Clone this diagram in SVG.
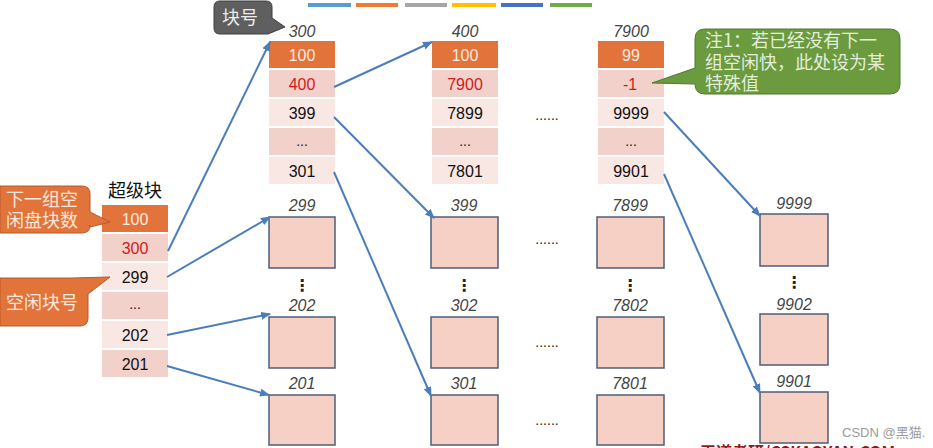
<svg xmlns="http://www.w3.org/2000/svg" width="933" height="448" viewBox="0 0 933 448">
<defs>
<marker id="ah" markerWidth="10" markerHeight="8" refX="9" refY="4" orient="auto" markerUnits="userSpaceOnUse">
<path d="M0,0 L10,4 L0,8 Z" fill="#4a7ebb"/>
</marker>
</defs>
<style>
.num{font-family:"Liberation Sans",Arial,sans-serif;font-size:16px;text-anchor:middle;fill:#111}
.wt{fill:#fbeadf}
.red{fill:#d21a1a}
.lbl{font-family:"Liberation Sans",Arial,sans-serif;font-size:16px;font-style:italic;text-anchor:middle;fill:#444}
.dots{font-family:"Liberation Sans",Arial,sans-serif;font-size:14px;text-anchor:middle;fill:#222}
.vd{font-family:"DejaVu Sans",sans-serif;font-size:16px;font-weight:bold;text-anchor:middle;fill:#222}
.cjk{font-family:"Noto Sans CJK SC","Noto Sans",sans-serif;font-size:18px}
.or{fill:#e2733a}
.dk{fill:#f2d1cb}
.lt{fill:#f9e7e4}
.box{fill:#f6d0c4;stroke:#4f5d78;stroke-width:1.5}
.conn{stroke:#4a7ebb;stroke-width:2;fill:none;marker-end:url(#ah)}
</style>
<rect width="933" height="448" fill="#ffffff"/>

<g id="colorbar">
<rect x="308" y="3" width="43" height="4" fill="#5b9bd5"/>
<rect x="356" y="3" width="42" height="4" fill="#ed7d31"/>
<rect x="405" y="3" width="42" height="4" fill="#a5a5a5"/>
<rect x="452" y="3" width="44" height="4" fill="#ffc000"/>
<rect x="501" y="3" width="42" height="4" fill="#4472c4"/>
<rect x="550" y="3" width="42" height="4" fill="#70ad47"/>
</g>

<g id="superblock">
<text x="135" y="197" class="cjk" text-anchor="middle" fill="#111">超级块</text>
<rect x="102" y="205" width="66" height="27" class="or"/>
<text x="135" y="225" class="num wt">100</text>
<rect x="102" y="234" width="66" height="27" class="dk"/>
<text x="135" y="254" class="num red">300</text>
<rect x="102" y="263" width="66" height="27" class="lt"/>
<text x="135" y="283" class="num">299</text>
<rect x="102" y="292" width="66" height="27" class="dk"/>
<text x="135" y="309" class="dots">...</text>
<rect x="102" y="321" width="66" height="27" class="lt"/>
<text x="135" y="341" class="num">202</text>
<rect x="102" y="350" width="66" height="27" class="dk"/>
<text x="135" y="370" class="num">201</text>
</g>

<g id="group300">
<text x="302" y="37" class="lbl">300</text>
<rect x="269" y="41" width="66" height="27" class="or"/>
<text x="302" y="61" class="num wt">100</text>
<rect x="269" y="70" width="66" height="27" class="dk"/>
<text x="302" y="90" class="num red">400</text>
<rect x="269" y="99" width="66" height="27" class="lt"/>
<text x="302" y="119" class="num">399</text>
<rect x="269" y="128" width="66" height="27" class="dk"/>
<text x="302" y="146" class="dots">...</text>
<rect x="269" y="157" width="66" height="27" class="lt"/>
<text x="302" y="177" class="num">301</text>
</g>

<g id="group400">
<text x="465" y="37" class="lbl">400</text>
<rect x="432" y="41" width="66" height="27" class="or"/>
<text x="465" y="61" class="num wt">100</text>
<rect x="432" y="70" width="66" height="27" class="dk"/>
<text x="465" y="90" class="num red">7900</text>
<rect x="432" y="99" width="66" height="27" class="lt"/>
<text x="465" y="119" class="num">7899</text>
<rect x="432" y="128" width="66" height="27" class="dk"/>
<text x="465" y="146" class="dots">...</text>
<rect x="432" y="157" width="66" height="27" class="lt"/>
<text x="465" y="177" class="num">7801</text>
</g>

<g id="group7900">
<text x="631" y="37" class="lbl">7900</text>
<rect x="598" y="41" width="66" height="27" class="or"/>
<text x="631" y="61" class="num wt">99</text>
<rect x="598" y="70" width="66" height="27" class="dk"/>
<text x="630" y="90" class="num red">-1</text>
<rect x="598" y="99" width="66" height="27" class="lt"/>
<text x="631" y="119" class="num">9999</text>
<rect x="598" y="128" width="66" height="27" class="dk"/>
<text x="631" y="146" class="dots">...</text>
<rect x="598" y="157" width="66" height="27" class="lt"/>
<text x="631" y="177" class="num">9901</text>
</g>

<g id="blocks1">
<text x="302" y="211" class="lbl">299</text>
<rect x="269" y="217" width="66" height="51" class="box"/>
<text x="302" y="291" class="vd">⋮</text>
<text x="302" y="311" class="lbl">202</text>
<rect x="269" y="317" width="66" height="51" class="box"/>
<text x="302" y="389" class="lbl">201</text>
<rect x="269" y="395" width="66" height="50" class="box"/>
</g>

<g id="blocks2">
<text x="464" y="211" class="lbl">399</text>
<rect x="431" y="217" width="67" height="51" class="box"/>
<text x="464" y="291" class="vd">⋮</text>
<text x="464" y="311" class="lbl">302</text>
<rect x="431" y="317" width="67" height="51" class="box"/>
<text x="464" y="389" class="lbl">301</text>
<rect x="431" y="395" width="67" height="50" class="box"/>
</g>

<g id="blocks3">
<text x="630" y="211" class="lbl">7899</text>
<rect x="597" y="217" width="67" height="51" class="box"/>
<text x="630" y="291" class="vd">⋮</text>
<text x="630" y="311" class="lbl">7802</text>
<rect x="597" y="317" width="67" height="51" class="box"/>
<text x="630" y="389" class="lbl">7801</text>
<rect x="597" y="395" width="67" height="50" class="box"/>
</g>

<g id="blocks4">
<text x="794" y="209" class="lbl">9999</text>
<rect x="760" y="214" width="68" height="52" class="box"/>
<text x="794" y="288" class="vd">⋮</text>
<text x="794" y="310" class="lbl">9902</text>
<rect x="760" y="314" width="68" height="51" class="box"/>
<text x="794" y="387" class="lbl">9901</text>
<rect x="760" y="392" width="68" height="51" class="box"/>
</g>

<g id="ellipses">
<text x="547" y="120" class="dots">......</text>
<text x="547" y="244" class="dots">......</text>
<text x="547" y="347" class="dots">......</text>
<text x="547" y="425" class="dots">......</text>
</g>

<g id="callout-blockno">
<path d="M220,1 H266 Q272,1 272,7 V18 L285,27 L268,34 H220 Q214,34 214,28 V7 Q214,1 220,1 Z" fill="#5f5f5f" stroke="#3e3e3e" stroke-width="1"/>
<text x="240" y="24" class="cjk" text-anchor="middle" fill="#ececec">块号</text>
</g>

<g id="callout-next">
<path d="M0,186 H82 Q90,186 90,194 V212 L110,222 L90,227 V225 Q90,233 82,233 H0 Z" fill="#e2733a" stroke="#b85a26" stroke-width="1"/>
<text class="cjk" text-anchor="middle" fill="#fbe7da"><tspan x="42" y="206">下一组空</tspan><tspan x="42" y="227">闲盘块数</tspan></text>
</g>

<g id="callout-free">
<path d="M0,278 H72 L110,277 L88,294 V318 Q88,326 80,326 H0 Z" fill="#e2733a" stroke="#b85a26" stroke-width="1"/>
<text x="42" y="309" class="cjk" text-anchor="middle" fill="#fbe7da">空闲块号</text>
</g>

<g id="callout-note">
<path d="M705,29 H890 Q900,29 900,39 V84 Q900,94 890,94 H705 Q695,94 695,84 L652,83 L695,68 V39 Q695,29 705,29 Z" fill="#6b9a3f" stroke="#4f7a2c" stroke-width="1"/>
<text class="cjk" font-size="17.5" fill="#e4eedb"><tspan x="705" y="47">注1：若已经没有下一</tspan><tspan x="705" y="69">组空闲快，此处设为某</tspan><tspan x="705" y="90">特殊值</tspan></text>
</g>

<g id="connectors">
<line x1="168" y1="251" x2="270" y2="42" class="conn"/>
<line x1="167" y1="277" x2="270" y2="217" class="conn"/>
<line x1="167" y1="335" x2="270" y2="314" class="conn"/>
<line x1="167" y1="366" x2="269" y2="395" class="conn"/>
<line x1="334" y1="87" x2="432" y2="42" class="conn"/>
<line x1="334" y1="117" x2="434" y2="218" class="conn"/>
<line x1="334" y1="172" x2="431" y2="396" class="conn"/>
<line x1="664" y1="112" x2="760" y2="216" class="conn"/>
<line x1="664" y1="174" x2="760" y2="393" class="conn"/>
</g>

<g id="watermarks">
<text x="842" y="437" font-family="Liberation Sans,Noto Sans CJK SC,sans-serif" font-size="13" fill="#9a9a9a">CSDN @黑猫.</text>
<text x="700" y="458" font-family="Noto Sans CJK SC,Liberation Sans,sans-serif" font-size="16" font-weight="bold" fill="#8b1a1a">王道考研/CSKAOYAN.COM</text>
</g>
</svg>
